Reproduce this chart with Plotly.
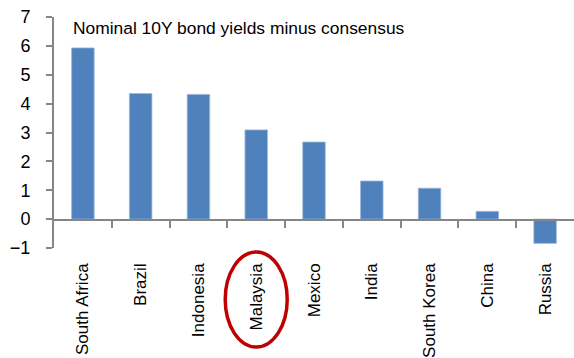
import plotly.graph_objects as go

countries = ["South Africa", "Brazil", "Indonesia", "Malaysia", "Mexico",
             "India", "South Korea", "China", "Russia"]
values = [5.93, 4.35, 4.32, 3.09, 2.67, 1.32, 1.07, 0.27, -0.84]
y_ticks = [-1, 0, 1, 2, 3, 4, 5, 6, 7]
title_text = "Nominal 10Y bond yields minus consensus"
highlight = "Malaysia"

W, H = 574, 358
ml, mr, mt, mb = 54, 0, 17, 110
font = "Liberation Sans, Arial, sans-serif"
n = len(countries)
idxs = list(range(n))
ymin, ymax = y_ticks[0], y_ticks[-1]
zero_frac = (0 - ymin) / (ymax - ymin)

fig = go.Figure()
fig.add_trace(go.Bar(
    x=countries, y=values,
    marker=dict(color="#4F81BD", line=dict(color="#9DB9DD", width=0.8)),
    width=0.39, hoverinfo="skip", showlegend=False,
))
# invisible trace on a helper axis pair whose bottom edge sits at y=0
fig.add_trace(go.Scatter(
    x=idxs, y=[max(v, 0) for v in values], xaxis="x2", yaxis="y2",
    mode="markers", marker=dict(opacity=0), hoverinfo="skip",
    showlegend=False,
))

fig.update_layout(
    width=W, height=H,
    margin=dict(l=ml, r=mr, t=mt, b=mb),
    plot_bgcolor="rgba(0,0,0,0)", paper_bgcolor="white",
    font=dict(family=font, color="black"),
    xaxis=dict(
        type="category", categoryarray=countries, range=[-0.5, n - 0.5],
        showline=False, ticks="", tickangle=-90,
        tickfont=dict(size=17, family=font, color="black"),
        ticklabelstandoff=11, showgrid=False, zeroline=False,
    ),
    yaxis=dict(
        range=[ymin, ymax], tickvals=y_ticks, showgrid=False,
        zeroline=False, domain=[0, 1],
        showline=True, linecolor="#868686", linewidth=2,
        ticks="outside", ticklen=6, tickwidth=2, tickcolor="#868686",
        tickfont=dict(size=18, family=font, color="black"),
        ticklabelstandoff=12,
    ),
    xaxis2=dict(
        type="linear", range=[-0.5, n - 0.5], anchor="y2", side="bottom",
        showline=True, linecolor="#868686", linewidth=2,
        ticks="outside", ticklen=7, tickwidth=2, tickcolor="#868686",
        tickvals=[i + 0.5 for i in idxs[:-1]],
        showticklabels=False, showgrid=False, zeroline=False,
    ),
    yaxis2=dict(
        domain=[zero_frac, 1], anchor="x2", range=[0, ymax],
        showline=False, showticklabels=False, ticks="", showgrid=False,
        zeroline=False,
    ),
    annotations=[dict(
        text=title_text, xref="paper", yref="paper",
        x=(71 - ml) / (W - ml - mr), y=1 - (28 - mt) / (H - mt - mb),
        xanchor="left", yanchor="middle", showarrow=False,
        font=dict(size=17.4, family=font, color="black"),
    )],
)

# red ellipse around the highlighted category label
idx = countries.index(highlight)
pw = W - ml - mr
ph = H - mt - mb
cw = pw / n
cx = ml + (idx + 0.5) * cw
x0p, x1p = cx - 31, cx + 31
y0p, y1p = 252, 347
fig.add_shape(
    type="circle", xref="paper", yref="paper",
    x0=(x0p - ml) / pw, x1=(x1p - ml) / pw,
    y0=1 - (y1p - mt) / ph, y1=1 - (y0p - mt) / ph,
    line=dict(color="#C00000", width=3.5),
)

fig.write_html("out.html")
